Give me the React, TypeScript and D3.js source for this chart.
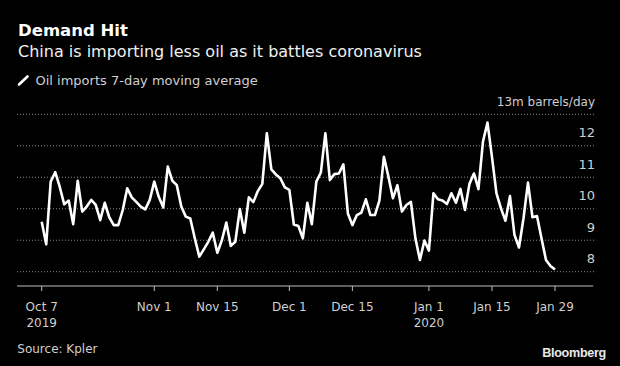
import React, { useEffect, useRef } from "react";
import * as d3 from "d3";

// daily 7-day moving average, starting Oct 7 2019 (m barrels/day)
const startDate = "2019-10-07";
const oilImports = [
  9.59, 8.87, 10.86, 11.16, 10.7, 10.14, 10.26, 9.51, 10.89, 9.91,
  10.07, 10.28, 10.12, 9.64, 10.19, 9.73, 9.48, 9.48, 9.96, 10.65,
  10.36, 10.22, 10.07, 9.98, 10.28, 10.86, 10.38, 10.04, 11.34, 10.89,
  10.75, 10.07, 9.75, 9.69, 9.06, 8.48, 8.71, 8.95, 9.24, 8.6,
  8.99, 9.56, 8.82, 8.95, 9.99, 9.24, 10.36, 10.21, 10.56, 10.79,
  12.4, 11.25, 11.09, 10.97, 10.68, 10.6, 9.5, 9.45, 9.06, 10.19,
  9.51, 10.86, 11.15, 12.4, 10.91, 11.1, 11.12, 11.41, 9.85, 9.48,
  9.8, 9.88, 10.3, 9.8, 9.8, 10.26, 11.65, 11.02, 10.33, 10.75,
  9.91, 10.12, 10.22, 9.06, 8.37, 8.99, 8.67, 10.49, 10.3, 10.26,
  10.15, 10.49, 10.19, 10.63, 9.96, 10.79, 11.12, 10.62, 12.13, 12.74,
  11.65, 10.49, 10.01, 9.62, 10.4, 9.17, 8.77, 9.69, 10.83, 9.73,
  9.77, 9.06, 8.37, 8.18, 8.07,
];

const xTickDates = ["2019-10-07", "2019-11-01", "2019-11-15", "2019-12-01", "2019-12-15", "2020-01-01", "2020-01-15", "2020-01-29"];
const xTickYears: Record<string, string> = { "2019-10-07": "2019", "2020-01-01": "2020" };
const yTicks = [8, 9, 10, 11, 12, 13];

const title = "Demand Hit";
const subtitle = "China is importing less oil as it battles coronavirus";
const legendLabel = "Oil imports 7-day moving average";
const unitLabel = "13m barrels/day";
const source = "Source: Kpler";

const W = 620;
const H = 366;
const FONT = "'DejaVu Sans', sans-serif";

export default function App() {
  const ref = useRef<SVGSVGElement>(null);

  useEffect(() => {
    const svg = d3.select(ref.current);
    svg.selectAll("*").remove();

    const parse = d3.utcParse("%Y-%m-%d");
    const t0 = parse(startDate) as Date;
    const data = oilImports.map((v, i) => ({ date: d3.utcDay.offset(t0, i), value: v }));

    const x = d3
      .scaleUtc()
      .domain([t0, parse("2020-01-29") as Date])
      .range([41.7, 555]);
    const y = d3.scaleLinear().domain([8, 13]).range([271.7, 114.3]);

    svg.append("rect").attr("width", W).attr("height", H).attr("fill", "#000");

    // header
    svg
      .append("text")
      .attr("x", 18)
      .attr("y", 36)
      .attr("fill", "#fff")
      .style("font", `bold 16.5px ${FONT}`)
      .text(title);
    svg
      .append("text")
      .attr("x", 18)
      .attr("y", 57)
      .attr("fill", "#f0f0f0")
      .style("font", `16px ${FONT}`)
      .text(subtitle);

    svg
      .append("line")
      .attr("x1", 19)
      .attr("y1", 84.5)
      .attr("x2", 27.5)
      .attr("y2", 76.5)
      .attr("stroke", "#fff")
      .attr("stroke-width", 2.6)
      .attr("stroke-linecap", "round");
    svg
      .append("text")
      .attr("x", 35.5)
      .attr("y", 85)
      .attr("fill", "#cfcfcf")
      .style("font", `13px ${FONT}`)
      .text(legendLabel);

    // gridlines + right labels
    const grid = svg.append("g");
    grid
      .selectAll("line")
      .data(yTicks)
      .join("line")
      .attr("x1", 17)
      .attr("x2", 595)
      .attr("y1", (d) => y(d))
      .attr("y2", (d) => y(d))
      .attr("stroke", "#8a8a8a")
      .attr("stroke-width", 1)
      .attr("stroke-dasharray", "1,2");
    grid
      .selectAll("text")
      .data(yTicks)
      .join("text")
      .attr("x", 595)
      .attr("y", (d) => y(d) - 8.4)
      .attr("text-anchor", "end")
      .attr("fill", "#cfcfcf")
      .style("font", (d) => (d === 13 ? `12px ${FONT}` : `13px ${FONT}`))
      .text((d) => (d === 13 ? unitLabel : String(d)));

    // x axis
    const axisY = 286;
    const ax = svg.append("g");
    ax.append("line")
      .attr("x1", 17)
      .attr("x2", 593.3)
      .attr("y1", axisY)
      .attr("y2", axisY)
      .attr("stroke", "#bdbdbd")
      .attr("stroke-width", 1);
    const ticks = ax
      .selectAll("g")
      .data(xTickDates)
      .join("g")
      .attr("transform", (d) => `translate(${x(parse(d) as Date)},0)`);
    ticks
      .append("line")
      .attr("y1", axisY)
      .attr("y2", axisY + 5)
      .attr("stroke", "#bdbdbd");
    ticks
      .append("text")
      .attr("y", 310.7)
      .attr("text-anchor", "middle")
      .attr("fill", "#cfcfcf")
      .style("font", `12px ${FONT}`)
      .text((d) => d3.utcFormat("%b %-d")(parse(d) as Date));
    ticks
      .filter((d) => !!xTickYears[d])
      .append("text")
      .attr("y", 327.3)
      .attr("text-anchor", "middle")
      .attr("fill", "#cfcfcf")
      .style("font", `12px ${FONT}`)
      .text((d) => xTickYears[d]);

    // the line
    const line = d3
      .line<{ date: Date; value: number }>()
      .x((d) => x(d.date))
      .y((d) => y(d.value));
    svg
      .append("path")
      .datum(data)
      .attr("d", line)
      .attr("fill", "none")
      .attr("stroke", "#fff")
      .attr("stroke-width", 2.6)
      .attr("stroke-linejoin", "round");

    // footer
    svg
      .append("text")
      .attr("x", 17.3)
      .attr("y", 353.3)
      .attr("fill", "#cfcfcf")
      .style("font", `12px ${FONT}`)
      .text(source);
    svg
      .append("text")
      .attr("x", 606)
      .attr("y", 357.3)
      .attr("text-anchor", "end")
      .attr("fill", "#e8e8e8")
      .style("font", "bold 12.6px 'Liberation Sans', Arial, sans-serif")
      .style("letter-spacing", "-0.3px")
      .text("Bloomberg");
  }, []);

  return (
    <svg
      ref={ref}
      width={W}
      height={H}
      style={{ position: "fixed", left: 0, top: 0, display: "block" }}
    />
  );
}
